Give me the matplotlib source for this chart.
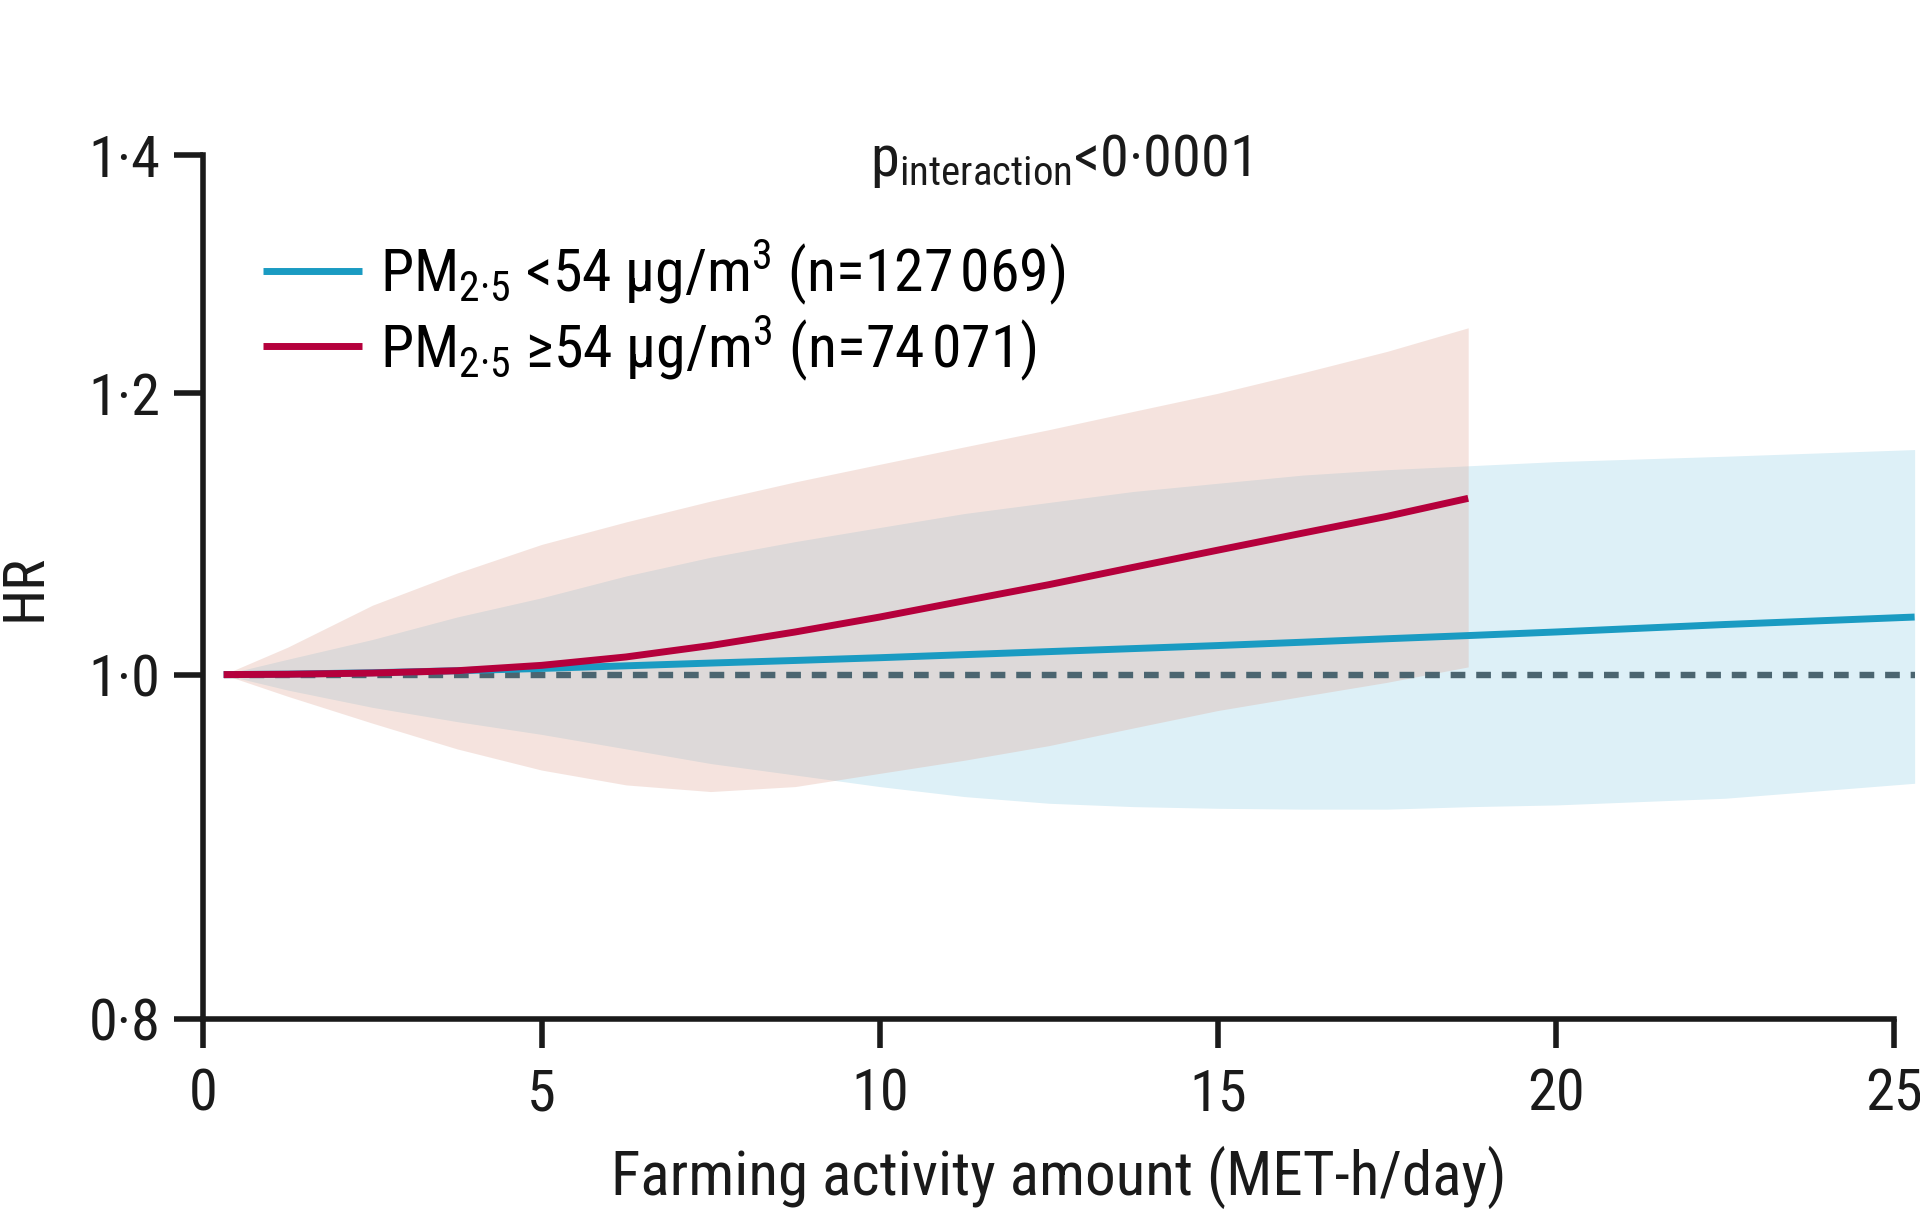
import os
import matplotlib
matplotlib.use("Agg")
import matplotlib.pyplot as plt
from matplotlib import font_manager
from matplotlib.ticker import FixedLocator, NullLocator

# look for a narrow / condensed sans, the reference uses a condensed face
bad = ['bold', 'light', 'semi', 'extra', 'medium', 'black', 'thin', 'italic', 'oblique']
narrow = []
for f in font_manager.fontManager.ttflist:
    fn = os.path.basename(f.fname).lower()
    if ('narrow' in fn or 'condensed' in fn) and not any(b in fn for b in bad):
        narrow.append(f)
order = ['liberation', 'roboto', 'opensans', 'open', 'noto', 'dejavu']
narrow.sort(key=lambda f: next((i for i, o in enumerate(order)
                                if o in os.path.basename(f.fname).lower()), 99))
if narrow:
    fam, stretch = narrow[0].name, narrow[0].stretch
else:
    fam, stretch = 'Liberation Sans', 'normal'
plt.rcParams['font.family'] = [fam, 'DejaVu Sans']
plt.rcParams['font.stretch'] = stretch
plt.rcParams['mathtext.fontset'] = 'custom'
plt.rcParams['mathtext.rm'] = f'{fam}:stretch={stretch}'
plt.rcParams['mathtext.it'] = f'{fam}:italic:stretch={stretch}'
plt.rcParams['mathtext.bf'] = f'{fam}:bold:stretch={stretch}'
fs = 1.0 if narrow else 0.88

# PM2.5 < 54 (blue)
low_x = [0.3, 1.25, 2.5, 3.75, 5, 6.25, 7.5, 8.75, 10, 11.25, 12.5, 13.75,
         15, 16.25, 17.5, 18.75, 20, 22.5, 25.3]
low_hr = [1.0, 1.0003, 1.0012, 1.0025, 1.004, 1.0057, 1.0075, 1.0092, 1.011,
          1.013, 1.015, 1.017, 1.019, 1.0212, 1.0235, 1.0257, 1.028, 1.033, 1.038]
low_upper = [1.0, 1.010, 1.023, 1.038, 1.051, 1.066, 1.079, 1.090, 1.100,
             1.110, 1.118, 1.126, 1.132, 1.138, 1.142, 1.145, 1.148, 1.152, 1.157]
low_lower = [1.0, 0.990, 0.979, 0.970, 0.962, 0.953, 0.944, 0.937, 0.930,
             0.924, 0.920, 0.918, 0.917, 0.9165, 0.9165, 0.918, 0.919, 0.923, 0.932]

# PM2.5 >= 54 (red)
high_x = [0.3, 1.25, 2.5, 3.75, 5, 6.25, 7.5, 8.75, 10, 11.25, 12.5, 13.75,
          15, 16.25, 17.5, 18.7]
high_hr = [1.0, 1.0002, 1.001, 1.0025, 1.006, 1.0115, 1.019, 1.028, 1.038,
           1.049, 1.060, 1.072, 1.084, 1.096, 1.108, 1.121]
high_upper = [1.0, 1.018, 1.046, 1.068, 1.088, 1.104, 1.119, 1.133, 1.146,
              1.159, 1.172, 1.186, 1.200, 1.216, 1.233, 1.252]
high_lower = [1.0, 0.986, 0.969, 0.953, 0.940, 0.931, 0.927, 0.930, 0.938,
              0.946, 0.955, 0.966, 0.977, 0.986, 0.995, 1.005]

ref_hr = 1.0
y_ticks = [0.8, 1.0, 1.2, 1.4]
y_labels = ['0·8', '1·0', '1·2', '1·4']
x_ticks = [0, 5, 10, 15, 20, 25]

low_label = 'PM$_{\\mathrm{2·5}}$ <54 μg/m$^{\\mathrm{3}}$ (n=127$\\,$069)'
high_label = 'PM$_{\\mathrm{2·5}}$ ≥54 μg/m$^{\\mathrm{3}}$ (n=74$\\,$071)'
p_text = 'p$_{\\mathrm{interaction}}$<0·0001'

fig = plt.figure(figsize=(19.2, 12.13), dpi=100)
ax = fig.add_axes([0.1059, 0.16, 0.8913, 0.7119])

ax.fill_between(low_x, low_lower, low_upper, color='#ddf0f7', lw=0, zorder=1)
ax.fill_between(high_x, high_lower, high_upper, color=(222/255, 165/255, 148/255),
                alpha=0.3, lw=0, zorder=2)

ax.plot([low_x[0], low_x[-1]], [ref_hr, ref_hr], color='#4b6570', lw=4.6,
        dashes=(2.3, 1.7), dash_capstyle='butt', zorder=3)
ax.plot(low_x, low_hr, color='#1a9bc2', lw=5, solid_capstyle='butt',
        zorder=4, label=low_label)
ax.plot(high_x, high_hr, color='#b5003c', lw=5, solid_capstyle='butt',
        zorder=5, label=high_label)

ax.set_yscale('log')
ax.set_ylim(0.8, 1.4)
ax.set_xlim(0, 25.3)
ax.yaxis.set_major_locator(FixedLocator(y_ticks))
ax.yaxis.set_minor_locator(NullLocator())
ax.set_yticklabels(y_labels)
ax.set_xticks(x_ticks)
ax.set_xticklabels([str(t) for t in x_ticks])

for s in ['top', 'right']:
    ax.spines[s].set_visible(False)
ax.spines['bottom'].set_bounds(0, 25)
for s in ['left', 'bottom']:
    ax.spines[s].set_linewidth(4)
    ax.spines[s].set_color('#1a1a1a')
ax.tick_params(axis='both', which='major', length=21, width=4, color='#1a1a1a',
               labelsize=42 * fs, labelcolor='#1a1a1a')
ax.tick_params(axis='x', pad=14)
ax.tick_params(axis='y', pad=10)

ax.set_xlabel('Farming activity amount (MET-h/day)', fontsize=44 * fs,
              color='#1a1a1a', labelpad=17)
ax.set_ylabel('HR', fontsize=42 * fs, color='#1a1a1a', labelpad=26)

ax.text(0.5006, 0.976, p_text, transform=ax.transAxes, ha='center',
        va='baseline', fontsize=42 * fs, color='#1a1a1a')

ax.legend(loc='upper left', bbox_to_anchor=(0.035, 0.905), frameon=False,
          fontsize=43 * fs, handlelength=1.65, handletextpad=0.3, labelspacing=0.1,
          borderpad=0, borderaxespad=0)

fig.savefig('out.png', dpi=100)
